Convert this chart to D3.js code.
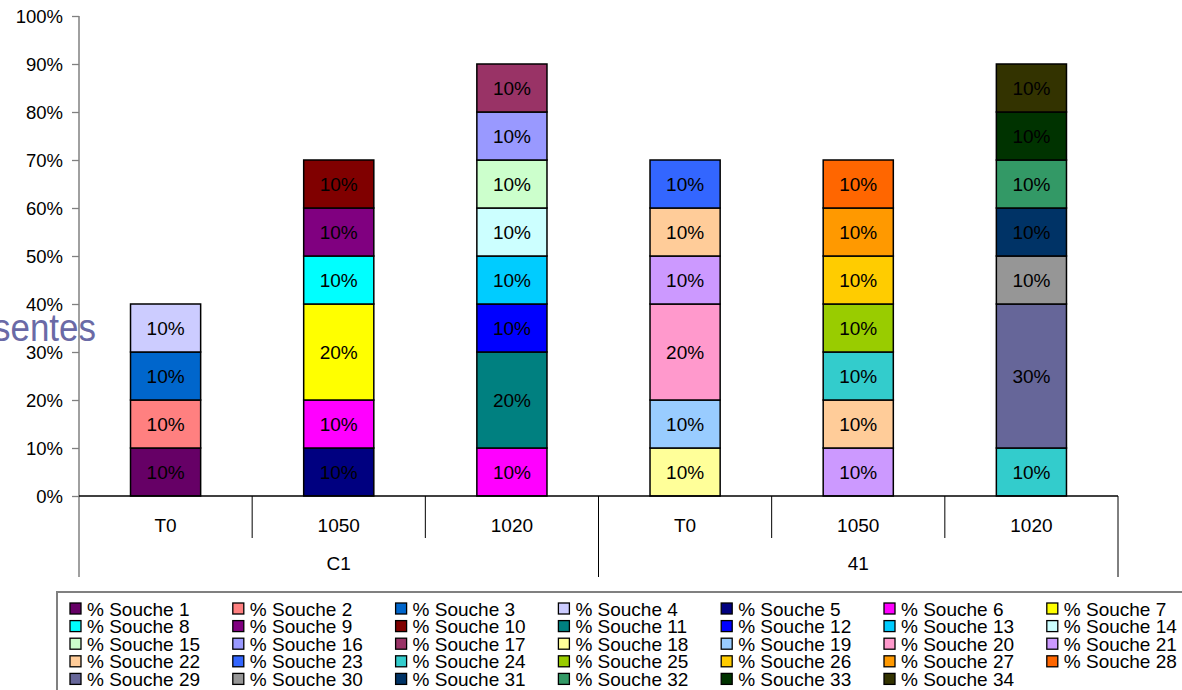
<!DOCTYPE html>
<html>
<head>
<meta charset="utf-8">
<script src="https://cdn.jsdelivr.net/npm/d3@7"></script>
<style>
  html, body { margin: 0; padding: 0; background: #fff; }
  svg { display: block; }
  text { font-family: Arial, "Liberation Sans", sans-serif; }
</style>
</head>
<body>
<svg id="chart" width="1182" height="690"></svg>
<script>
// ---- Data ----
const categories = ["T0", "1050", "1020", "T0", "1050", "1020"];
const groups = ["C1", "41"];
const groupOf = [0, 0, 0, 1, 1, 1];
const yTicks = [0, 0.1, 0.2, 0.3, 0.4, 0.5, 0.6, 0.7, 0.8, 0.9, 1.0];

const seriesNames = Array.from({length: 34}, (_, i) => "% Souche " + (i + 1));
const seriesColors = [
  "#660066", "#FF8080", "#0066CC", "#CCCCFF", "#000080", "#FF00FF", "#FFFF00",
  "#00FFFF", "#800080", "#800000", "#008080", "#0000FF", "#00CCFF", "#CCFFFF",
  "#CCFFCC", "#9999FF", "#993366", "#FFFF99", "#99CCFF", "#FF99CC", "#CC99FF",
  "#FFCC99", "#3366FF", "#33CCCC", "#99CC00", "#FFCC00", "#FF9900", "#FF6600",
  "#666699", "#969696", "#003366", "#339966", "#003300", "#333300"
];
// values per souche (index 0..33), per category (6)
const seriesValues = [
  [0.1, 0, 0, 0, 0, 0],     // 1
  [0.1, 0, 0, 0, 0, 0],     // 2
  [0.1, 0, 0, 0, 0, 0],     // 3
  [0.1, 0, 0, 0, 0, 0],     // 4
  [0, 0.1, 0, 0, 0, 0],     // 5
  [0, 0.1, 0.1, 0, 0, 0],   // 6
  [0, 0.2, 0, 0, 0, 0],     // 7
  [0, 0.1, 0, 0, 0, 0],     // 8
  [0, 0.1, 0, 0, 0, 0],     // 9
  [0, 0.1, 0, 0, 0, 0],     // 10
  [0, 0, 0.2, 0, 0, 0],     // 11
  [0, 0, 0.1, 0, 0, 0],     // 12
  [0, 0, 0.1, 0, 0, 0],     // 13
  [0, 0, 0.1, 0, 0, 0],     // 14
  [0, 0, 0.1, 0, 0, 0],     // 15
  [0, 0, 0.1, 0, 0, 0],     // 16
  [0, 0, 0.1, 0, 0, 0],     // 17
  [0, 0, 0, 0.1, 0, 0],     // 18
  [0, 0, 0, 0.1, 0, 0],     // 19
  [0, 0, 0, 0.2, 0, 0],     // 20
  [0, 0, 0, 0.1, 0.1, 0],   // 21
  [0, 0, 0, 0.1, 0.1, 0],   // 22
  [0, 0, 0, 0.1, 0, 0],     // 23
  [0, 0, 0, 0, 0.1, 0.1],   // 24
  [0, 0, 0, 0, 0.1, 0],     // 25
  [0, 0, 0, 0, 0.1, 0],     // 26
  [0, 0, 0, 0, 0.1, 0],     // 27
  [0, 0, 0, 0, 0.1, 0],     // 28
  [0, 0, 0, 0, 0, 0.3],     // 29
  [0, 0, 0, 0, 0, 0.1],     // 30
  [0, 0, 0, 0, 0, 0.1],     // 31
  [0, 0, 0, 0, 0, 0.1],     // 32
  [0, 0, 0, 0, 0, 0.1],     // 33
  [0, 0, 0, 0, 0, 0.1]      // 34
];
const axisTitle = "% Souches présentes";

// ---- Build table ----
const rows = categories.map((c, j) => {
  const r = { idx: j };
  seriesNames.forEach((s, i) => { r[s] = seriesValues[i][j]; });
  return r;
});
const stacked = d3.stack().keys(seriesNames)(rows);

// ---- Layout ----
const svg = d3.select("#chart");
const plotLeft = 79, plotRight = 1118, plotTop = 16, plotBottom = 496;
const FS = 19;

const x = d3.scaleBand().domain(d3.range(categories.length)).range([plotLeft, plotRight]).padding(0);
const y = d3.scaleLinear().domain([0, 1]).range([plotBottom, plotTop]);
const barW = x.bandwidth() * 0.405;
const color = d3.scaleOrdinal().domain(seriesNames).range(seriesColors);

// axis title (partially off-canvas as in reference)
svg.append("text")
  .attr("transform", "translate(96,341) scale(0.92,1)")
  .attr("text-anchor", "end")
  .attr("font-size", 38)
  .attr("fill", "#6A6AA6")
  .text(axisTitle);

// Y axis
const yAxis = d3.axisLeft(y).tickValues(yTicks).tickFormat(d3.format(".0%")).tickSize(7).tickSizeOuter(0);
const gy = svg.append("g").attr("transform", `translate(${plotLeft},0)`).call(yAxis);
gy.select(".domain").remove();
gy.selectAll(".tick line").attr("stroke", "#808080").attr("stroke-width", 1.3);
gy.selectAll(".tick text").attr("font-size", 18.5).attr("fill", "#000").attr("x", -16).attr("dy", "0.35em")
  .attr("font-family", "Arial, 'Liberation Sans', sans-serif");
svg.append("line").attr("x1", plotLeft).attr("x2", plotLeft).attr("y1", plotTop).attr("y2", 577)
  .attr("stroke", "#808080").attr("stroke-width", 1.5);

// Bars
const layer = svg.append("g");
stacked.forEach((s) => {
  s.forEach((d, j) => {
    const v = d[1] - d[0];
    if (v <= 0) return;
    const cx = x(j) + x.bandwidth() / 2;
    layer.append("rect")
      .attr("x", cx - barW / 2)
      .attr("y", y(d[1]))
      .attr("width", barW)
      .attr("height", y(d[0]) - y(d[1]))
      .attr("fill", color(s.key))
      .attr("stroke", "#000").attr("stroke-width", 1.5);
    layer.append("text")
      .attr("x", cx)
      .attr("y", (y(d[0]) + y(d[1])) / 2)
      .attr("dy", "0.36em")
      .attr("text-anchor", "middle")
      .attr("font-size", FS)
      .attr("fill", "#000")
      .text(d3.format(".0%")(v));
  });
});

// X axis (two levels)
svg.append("line").attr("x1", plotLeft).attr("x2", plotRight).attr("y1", plotBottom).attr("y2", plotBottom)
  .attr("stroke", "#000").attr("stroke-width", 1.3);
categories.forEach((c, j) => {
  const cx = x(j) + x.bandwidth() / 2;
  svg.append("text").attr("x", cx).attr("y", 525).attr("dy", "0.35em")
    .attr("text-anchor", "middle").attr("font-size", FS).text(c);
  if (j > 0 && groupOf[j] === groupOf[j - 1]) {
    svg.append("line").attr("x1", x(j)).attr("x2", x(j)).attr("y1", plotBottom).attr("y2", 538)
      .attr("stroke", "#000").attr("stroke-width", 1);
  }
});
groups.forEach((g, gi) => {
  const idxs = d3.range(categories.length).filter(j => groupOf[j] === gi);
  const x0 = x(idxs[0]), x1 = x(idxs[idxs.length - 1]) + x.bandwidth();
  svg.append("text").attr("x", (x0 + x1) / 2).attr("y", 563).attr("dy", "0.35em")
    .attr("text-anchor", "middle").attr("font-size", FS).text(g);
  [x0, x1].forEach(xx => {
    if (xx === plotLeft) return;
    svg.append("line").attr("x1", xx).attr("x2", xx).attr("y1", plotBottom).attr("y2", 577)
      .attr("stroke", "#000").attr("stroke-width", 1);
  });
});

// Legend
const legend = svg.append("g");
legend.append("rect").attr("x", 57).attr("y", 592).attr("width", 1200).attr("height", 200)
  .attr("fill", "none").attr("stroke", "#808080").attr("stroke-width", 2);
const colW = 162.8, rowH = 17.6, perRow = 7;
seriesNames.forEach((s, i) => {
  const col = i % perRow, row = Math.floor(i / perRow);
  const lx = 70 + col * colW, ly = 609 + row * rowH;
  legend.append("rect").attr("x", lx).attr("y", ly - 6).attr("width", 11).attr("height", 11)
    .attr("fill", color(s)).attr("stroke", "#000").attr("stroke-width", 1.3);
  legend.append("text").attr("x", lx + 17).attr("y", ly).attr("dy", "0.35em")
    .attr("font-size", FS).attr("fill", "#000").text(s);
});
</script>
</body>
</html>
